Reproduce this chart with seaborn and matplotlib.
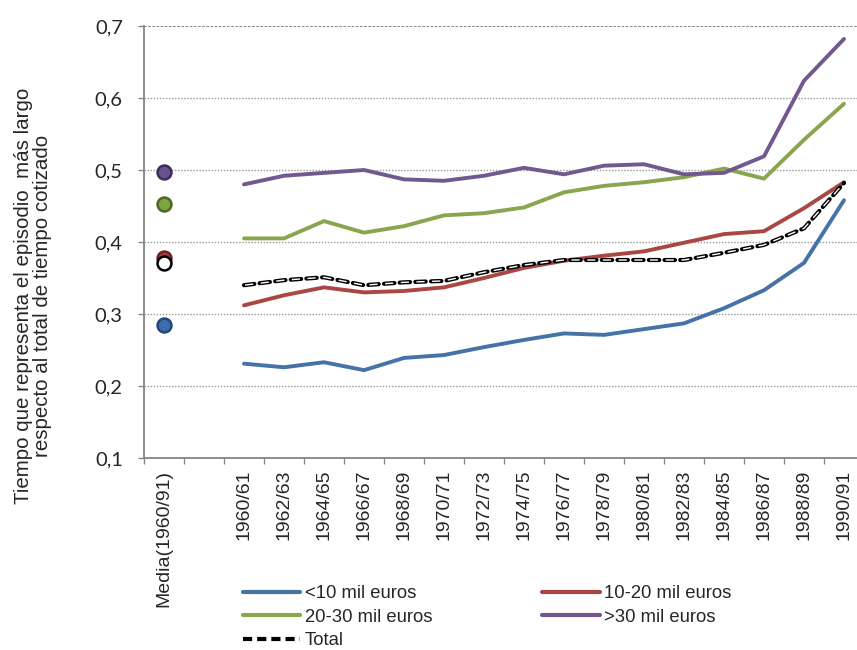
import matplotlib
matplotlib.use("Agg")
import matplotlib.pyplot as plt
from matplotlib.lines import Line2D
from matplotlib.ticker import FixedLocator
import seaborn as sns
import pandas as pd

# ---- data ----
periods = ["1960/61", "1962/63", "1964/65", "1966/67", "1968/69", "1970/71",
           "1972/73", "1974/75", "1976/77", "1978/79", "1980/81", "1982/83",
           "1984/85", "1986/87", "1988/89", "1990/91"]
categories = ["Media(1960/91)", ""] + periods

lt10 = [0.231, 0.226, 0.233, 0.222, 0.239, 0.243, 0.254, 0.264, 0.273, 0.271,
        0.279, 0.287, 0.308, 0.333, 0.371, 0.458]
r10_20 = [0.312, 0.326, 0.337, 0.330, 0.332, 0.337, 0.350, 0.364, 0.374, 0.381,
          0.387, 0.399, 0.411, 0.415, 0.447, 0.483]
r20_30 = [0.405, 0.405, 0.429, 0.413, 0.422, 0.437, 0.440, 0.448, 0.469, 0.478,
          0.483, 0.490, 0.502, 0.488, 0.542, 0.592]
gt30 = [0.480, 0.492, 0.496, 0.500, 0.487, 0.485, 0.492, 0.503, 0.494, 0.506,
        0.508, 0.494, 0.496, 0.519, 0.624, 0.682]
total = [0.340, 0.347, 0.351, 0.340, 0.344, 0.346, 0.358, 0.368, 0.375, 0.375,
         0.375, 0.375, 0.385, 0.396, 0.419, 0.482]

media = {"<10 mil euros": 0.285, "10-20 mil euros": 0.378,
         "20-30 mil euros": 0.453, ">30 mil euros": 0.497, "Total": 0.371}

series_names = ["<10 mil euros", "10-20 mil euros", "20-30 mil euros",
                ">30 mil euros", "Total"]
series_vals = [lt10, r10_20, r20_30, gt30, total]

yticks = [0.1, 0.2, 0.3, 0.4, 0.5, 0.6, 0.7]
ytick_labels = ["0,1", "0,2", "0,3", "0,4", "0,5", "0,6", "0,7"]

# ---- styles ----
line_colors = {"<10 mil euros": "#4572A7", "10-20 mil euros": "#AA4643",
               "20-30 mil euros": "#89A54E", ">30 mil euros": "#71588F",
               "Total": "#000000"}
dot_fill = {"<10 mil euros": "#3F6CAA", "10-20 mil euros": "#A5403D",
            "20-30 mil euros": "#7EA342", ">30 mil euros": "#6A5190",
            "Total": "#FFFFFF"}
dot_edge = {"<10 mil euros": "#23477A", "10-20 mil euros": "#6E2422",
            "20-30 mil euros": "#4C6A22", ">30 mil euros": "#3D2C5A",
            "Total": "#000000"}

sns.set_style("white")
plt.rcParams["font.family"] = ["Liberation Sans", "DejaVu Sans"]

fig = plt.figure(figsize=(8.57, 6.5), dpi=100)
ax = fig.add_axes([144 / 857, 1 - 458 / 650, (864 - 144) / 857, (458 - 26) / 650])

xpos = {c: i for i, c in enumerate(categories)}

LW = 2.8
for name, vals in zip(series_names, series_vals):
    df = pd.DataFrame({"x": [xpos[p] for p in periods], "y": vals})
    if name == "Total":
        blw, wlw = 3.0, 1.0
        dash, gap = 7.5, 3.8
        period = dash + gap
        sns.lineplot(data=df, x="x", y="y", ax=ax, color="black", lw=blw, zorder=4)
        ax.lines[-1].set_linestyle((0, (dash / blw, gap / blw)))
        ax.lines[-1].set_dash_capstyle("round")
        inner = dash - 1.6
        sns.lineplot(data=df, x="x", y="y", ax=ax, color="white", lw=wlw, zorder=5)
        ax.lines[-1].set_linestyle(((period - 0.8) / wlw,
                                    (inner / wlw, (period - inner) / wlw)))
        ax.lines[-1].set_dash_capstyle("butt")
    else:
        sns.lineplot(data=df, x="x", y="y", ax=ax, color=line_colors[name],
                     lw=LW, zorder=3)

# media dots
order_dots = ["<10 mil euros", "20-30 mil euros", ">30 mil euros",
              "10-20 mil euros", "Total"]
for name in order_dots:
    dfm = pd.DataFrame({"x": [xpos["Media(1960/91)"]], "y": [media[name]]})
    sns.scatterplot(data=dfm, x="x", y="y", ax=ax, color=dot_fill[name],
                    edgecolor=dot_edge[name], linewidth=1.8, s=100, zorder=6)

ax.set_xlim(-0.5, len(categories) - 0.5)
ax.set_ylim(0.1, 0.7)
ax.set_xlabel("")
ax.set_ylabel("")

ax.set_xticks(range(len(categories)))
ax.set_xticklabels(categories, rotation=90, fontsize=14,
                   family=["Liberation Sans", "DejaVu Sans"])
ax.xaxis.set_minor_locator(FixedLocator([i - 0.5 for i in range(len(categories) + 1)]))
ax.tick_params(axis="x", which="major", length=0, pad=8.5)
ax.tick_params(axis="x", which="minor", length=4.3, width=1, color="#868686",
               direction="out", bottom=True)

ax.set_yticks(yticks)
ax.set_yticklabels(ytick_labels, fontsize=14.5, family=["Lato", "DejaVu Sans"])
ax.tick_params(axis="y", length=4.3, width=1, color="#868686", direction="out",
               pad=11, left=True)

ax.grid(False)
for y in yticks[1:-1]:
    ax.axhline(y, color="#9A9A9A", lw=1, ls=(0, (1, 1.2)), zorder=1)
ax.axhline(0.7, color="#808080", lw=1.3, ls=(0, (1.5, 0.8)), zorder=1)

for s in ["top", "right"]:
    ax.spines[s].set_visible(False)
for s in ["left", "bottom"]:
    ax.spines[s].set_color("#868686")
    ax.spines[s].set_linewidth(1.3)

fig.text(33 / 857, 1 - 296 / 650,
         "Tiempo que representa el episodio  más largo\nrespecto al total de tiempo cotizado",
         rotation=90, ha="center", va="center", multialignment="center",
         fontsize=14.8, linespacing=0.95)

# legend
handles = {n: Line2D([], [], color=line_colors[n], lw=3) for n in series_names[:4]}
handles["Total"] = Line2D([], [], color="black", lw=3, dashes=[2.2, 1.2])
leg_order = ["<10 mil euros", "20-30 mil euros", "Total",
             "10-20 mil euros", ">30 mil euros"]
fig.legend([handles[n] for n in leg_order], leg_order,
           loc="upper left", bbox_to_anchor=(243 / 857, 1 - 585 / 650),
           ncol=2, frameon=False, fontsize=13.3, handlelength=3.1,
           handletextpad=0.25, columnspacing=5.95, labelspacing=0.36,
           borderpad=0, borderaxespad=0)

fig.savefig("out.png", dpi=100)
